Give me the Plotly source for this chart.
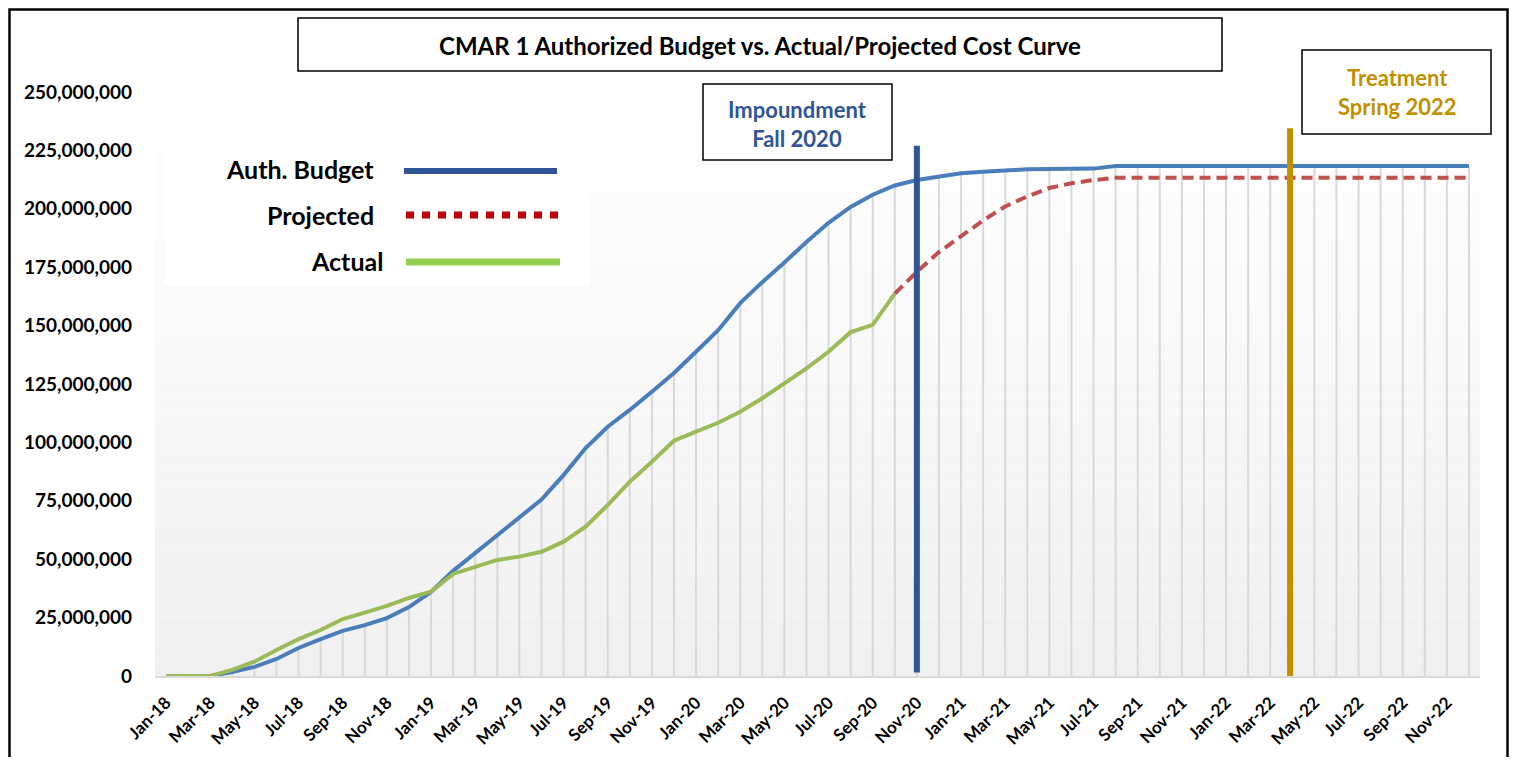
import plotly.graph_objects as go

# ---------------- data ----------------
months = []
for yr in range(18, 23):
    for m in ["Jan", "Feb", "Mar", "Apr", "May", "Jun", "Jul", "Aug", "Sep", "Oct", "Nov", "Dec"]:
        months.append(f"{m}-{yr}")

# values in millions of dollars
budget_m = [0, 0, 0, 1.7, 3.9, 7.3, 12.0, 15.8, 19.3, 21.8, 24.8, 29.5,
            36.0, 45.0, 52.6, 60.5, 67.6, 75.5, 86.0, 97.6, 106.7, 113.9, 121.7, 129.7,
            138.8, 148.0, 159.6, 168.6, 177.0, 185.8, 194.0, 200.8, 206.0, 210.0, 212.3, 213.7,
            215.2, 215.9, 216.6, 216.9, 217.0, 217.0, 217.2, 218.3, 218.3, 218.3, 218.3, 218.3,
            218.3, 218.3, 218.3, 218.3, 218.3, 218.3, 218.3, 218.3, 218.3, 218.3, 218.3, 218.3]

actual_m = [0, 0, 0, 2.6, 6.1, 11.1, 15.8, 19.7, 24.4, 27.1, 30.0, 33.4,
            36.1, 43.7, 46.8, 49.7, 51.1, 53.2, 57.5, 63.9, 73.2, 83.2, 91.7, 100.7,
            104.6, 108.4, 113.1, 118.9, 125.3, 131.7, 138.8, 147.2, 150.3, 163.7]

projected_start = 33  # Oct-20
projected_m = [163.7, 173.0, 181.5, 188.5, 195.0, 201.0, 205.3, 208.9, 210.9, 212.3, 213.3,
               213.3, 213.3, 213.3, 213.3, 213.3, 213.3, 213.3, 213.3, 213.3, 213.3, 213.3,
               213.3, 213.3, 213.3, 213.3, 213.3]

impoundment_idx = 34      # Nov-20
impoundment_top = 227e6
treatment_idx = 50.9      # ~Apr-22
treatment_top = 234.5e6

y_ticks = list(range(0, 250_000_001, 25_000_000))

# ---------------- derived ----------------
idx = list(range(len(months)))
budget = [v * 1e6 for v in budget_m]
actual = [v * 1e6 for v in actual_m]
projected = [v * 1e6 for v in projected_m]
proj_x = list(range(projected_start, projected_start + len(projected)))

drop_x, drop_y = [], []
for i, b in zip(idx, budget):
    drop_x += [i, i, None]
    drop_y += [0, b, None]

FONT = "Lato"
OFF = 8  # page body margin
W, H = 1517 - 2 * OFF, 765 - 2 * OFF
# plot area in screenshot pixels
SL, SR, ST, SB = 155, 1480, 92, 676
L, R, T, B = SL - OFF, SR - OFF, ST - OFF, SB - OFF


def px(x):  # screenshot x -> paper
    return (x - SL) / (SR - SL)


def py(y):  # screenshot y -> paper
    return (SB - y) / (SB - ST)


fig = go.Figure()
fig.add_trace(go.Scatter(x=drop_x, y=drop_y, mode="lines",
                         line=dict(color="#d9d9d9", width=2), hoverinfo="skip", showlegend=False))
fig.add_trace(go.Scatter(x=idx, y=budget, mode="lines", name="Auth. Budget",
                         line=dict(color="#4A7EBB", width=4), showlegend=False))
fig.add_trace(go.Scatter(x=proj_x, y=projected, mode="lines", name="Projected",
                         line=dict(color="#C0504D", width=4, dash="11px,6px"), showlegend=False))
fig.add_trace(go.Scatter(x=list(range(len(actual))), y=actual, mode="lines", name="Actual",
                         line=dict(color="#9BBB59", width=4), showlegend=False))

shapes = []
n = 40
for k in range(n):
    t = k / (n - 1)
    g = int(round(255 - (255 - 240) * (1 - t)))
    shapes.append(dict(type="rect", xref="x domain", yref="y domain",
                       x0=0, x1=1, y0=k / n, y1=(k + 1) / n,
                       fillcolor=f"rgb({g},{g},{g})", line=dict(width=0), layer="below"))

shapes.append(dict(type="rect", xref="paper", yref="paper",
                   x0=px(165), x1=px(590), y0=py(285), y1=py(145),
                   fillcolor="white", line=dict(width=0), layer="below"))

shapes.append(dict(type="line", xref="x", yref="y", x0=impoundment_idx, x1=impoundment_idx,
                   y0=1.5e6, y1=impoundment_top, line=dict(color="#2F5597", width=6)))
shapes.append(dict(type="line", xref="x", yref="y", x0=treatment_idx, x1=treatment_idx,
                   y0=0, y1=treatment_top, line=dict(color="#BF9000", width=6)))

for (x0, y0, x1, y1) in [(298, 18, 1222, 71), (703, 84, 892, 160), (1302, 50, 1491, 134)]:
    shapes.append(dict(type="rect", xref="paper", yref="paper",
                       x0=px(x0), x1=px(x1), y0=py(y1), y1=py(y0),
                       fillcolor="white", line=dict(color="black", width=1.5)))

shapes.append(dict(type="rect", xref="paper", yref="paper",
                   x0=px(9.5), x1=px(1507.5), y0=py(800), y1=py(9.5),
                   line=dict(color="black", width=2.5)))

shapes.append(dict(type="line", xref="paper", yref="paper", x0=px(404), x1=px(557),
                   y0=py(171), y1=py(171), line=dict(color="#2F5597", width=6)))
shapes.append(dict(type="line", xref="paper", yref="paper", x0=px(406), x1=px(558),
                   y0=py(215), y1=py(215), line=dict(color="#C00000", width=7, dash="8px,8px")))
shapes.append(dict(type="line", xref="paper", yref="paper", x0=px(406), x1=px(560),
                   y0=py(262), y1=py(262), line=dict(color="#92D050", width=7)))

annotations = [
    dict(text="CMAR 1 Authorized Budget vs. Actual/Projected Cost Curve",
         x=px(760), y=py(45), xref="paper", yref="paper", showarrow=False,
         xanchor="center", yanchor="middle",
         font=dict(family=FONT, size=24, color="black", weight="bold")),
    dict(text="Impoundment<br>Fall 2020", x=px(797), y=py(124), xref="paper", yref="paper",
         showarrow=False, xanchor="center", yanchor="middle",
         font=dict(family=FONT, size=22, color="#2F5597", weight="bold")),
    dict(text="Treatment<br>Spring 2022", x=px(1397), y=py(92), xref="paper", yref="paper",
         showarrow=False, xanchor="center", yanchor="middle",
         font=dict(family=FONT, size=22, color="#BF9000", weight="bold")),
]
for label, yy, xr in [("Auth. Budget", 169, 376), ("Projected", 215, 376), ("Actual", 261, 385)]:
    annotations.append(dict(text=label, x=px(xr), y=py(yy), xref="paper", yref="paper",
                            xanchor="right", yanchor="middle", showarrow=False,
                            font=dict(family=FONT, size=25, color="black", weight="bold")))

fig.update_layout(
    width=W, height=H,
    margin=dict(l=L, r=W - R, t=T, b=H - B, autoexpand=False),
    paper_bgcolor="white", plot_bgcolor="white",
    shapes=shapes, annotations=annotations,
    showlegend=False,
    xaxis=dict(range=[-0.5, len(months) - 0.5], tickmode="array",
               tickvals=idx[::2], ticktext=months[::2], tickangle=-45,
               showgrid=False, zeroline=False, showline=True, linecolor="#d9d9d9", linewidth=2,
               ticks="", ticklabelstandoff=8, automargin=False,
               tickfont=dict(family=FONT, size=17, color="black", weight="bold")),
    yaxis=dict(range=[0, 250e6], tickmode="array", tickvals=y_ticks,
               tickformat=",d", showgrid=False, zeroline=False, showline=False, ticks="",
               ticklabelstandoff=22, automargin=False,
               tickfont=dict(family=FONT, size=19, color="black", weight="bold")),
)

fig.write_html("out.html")
